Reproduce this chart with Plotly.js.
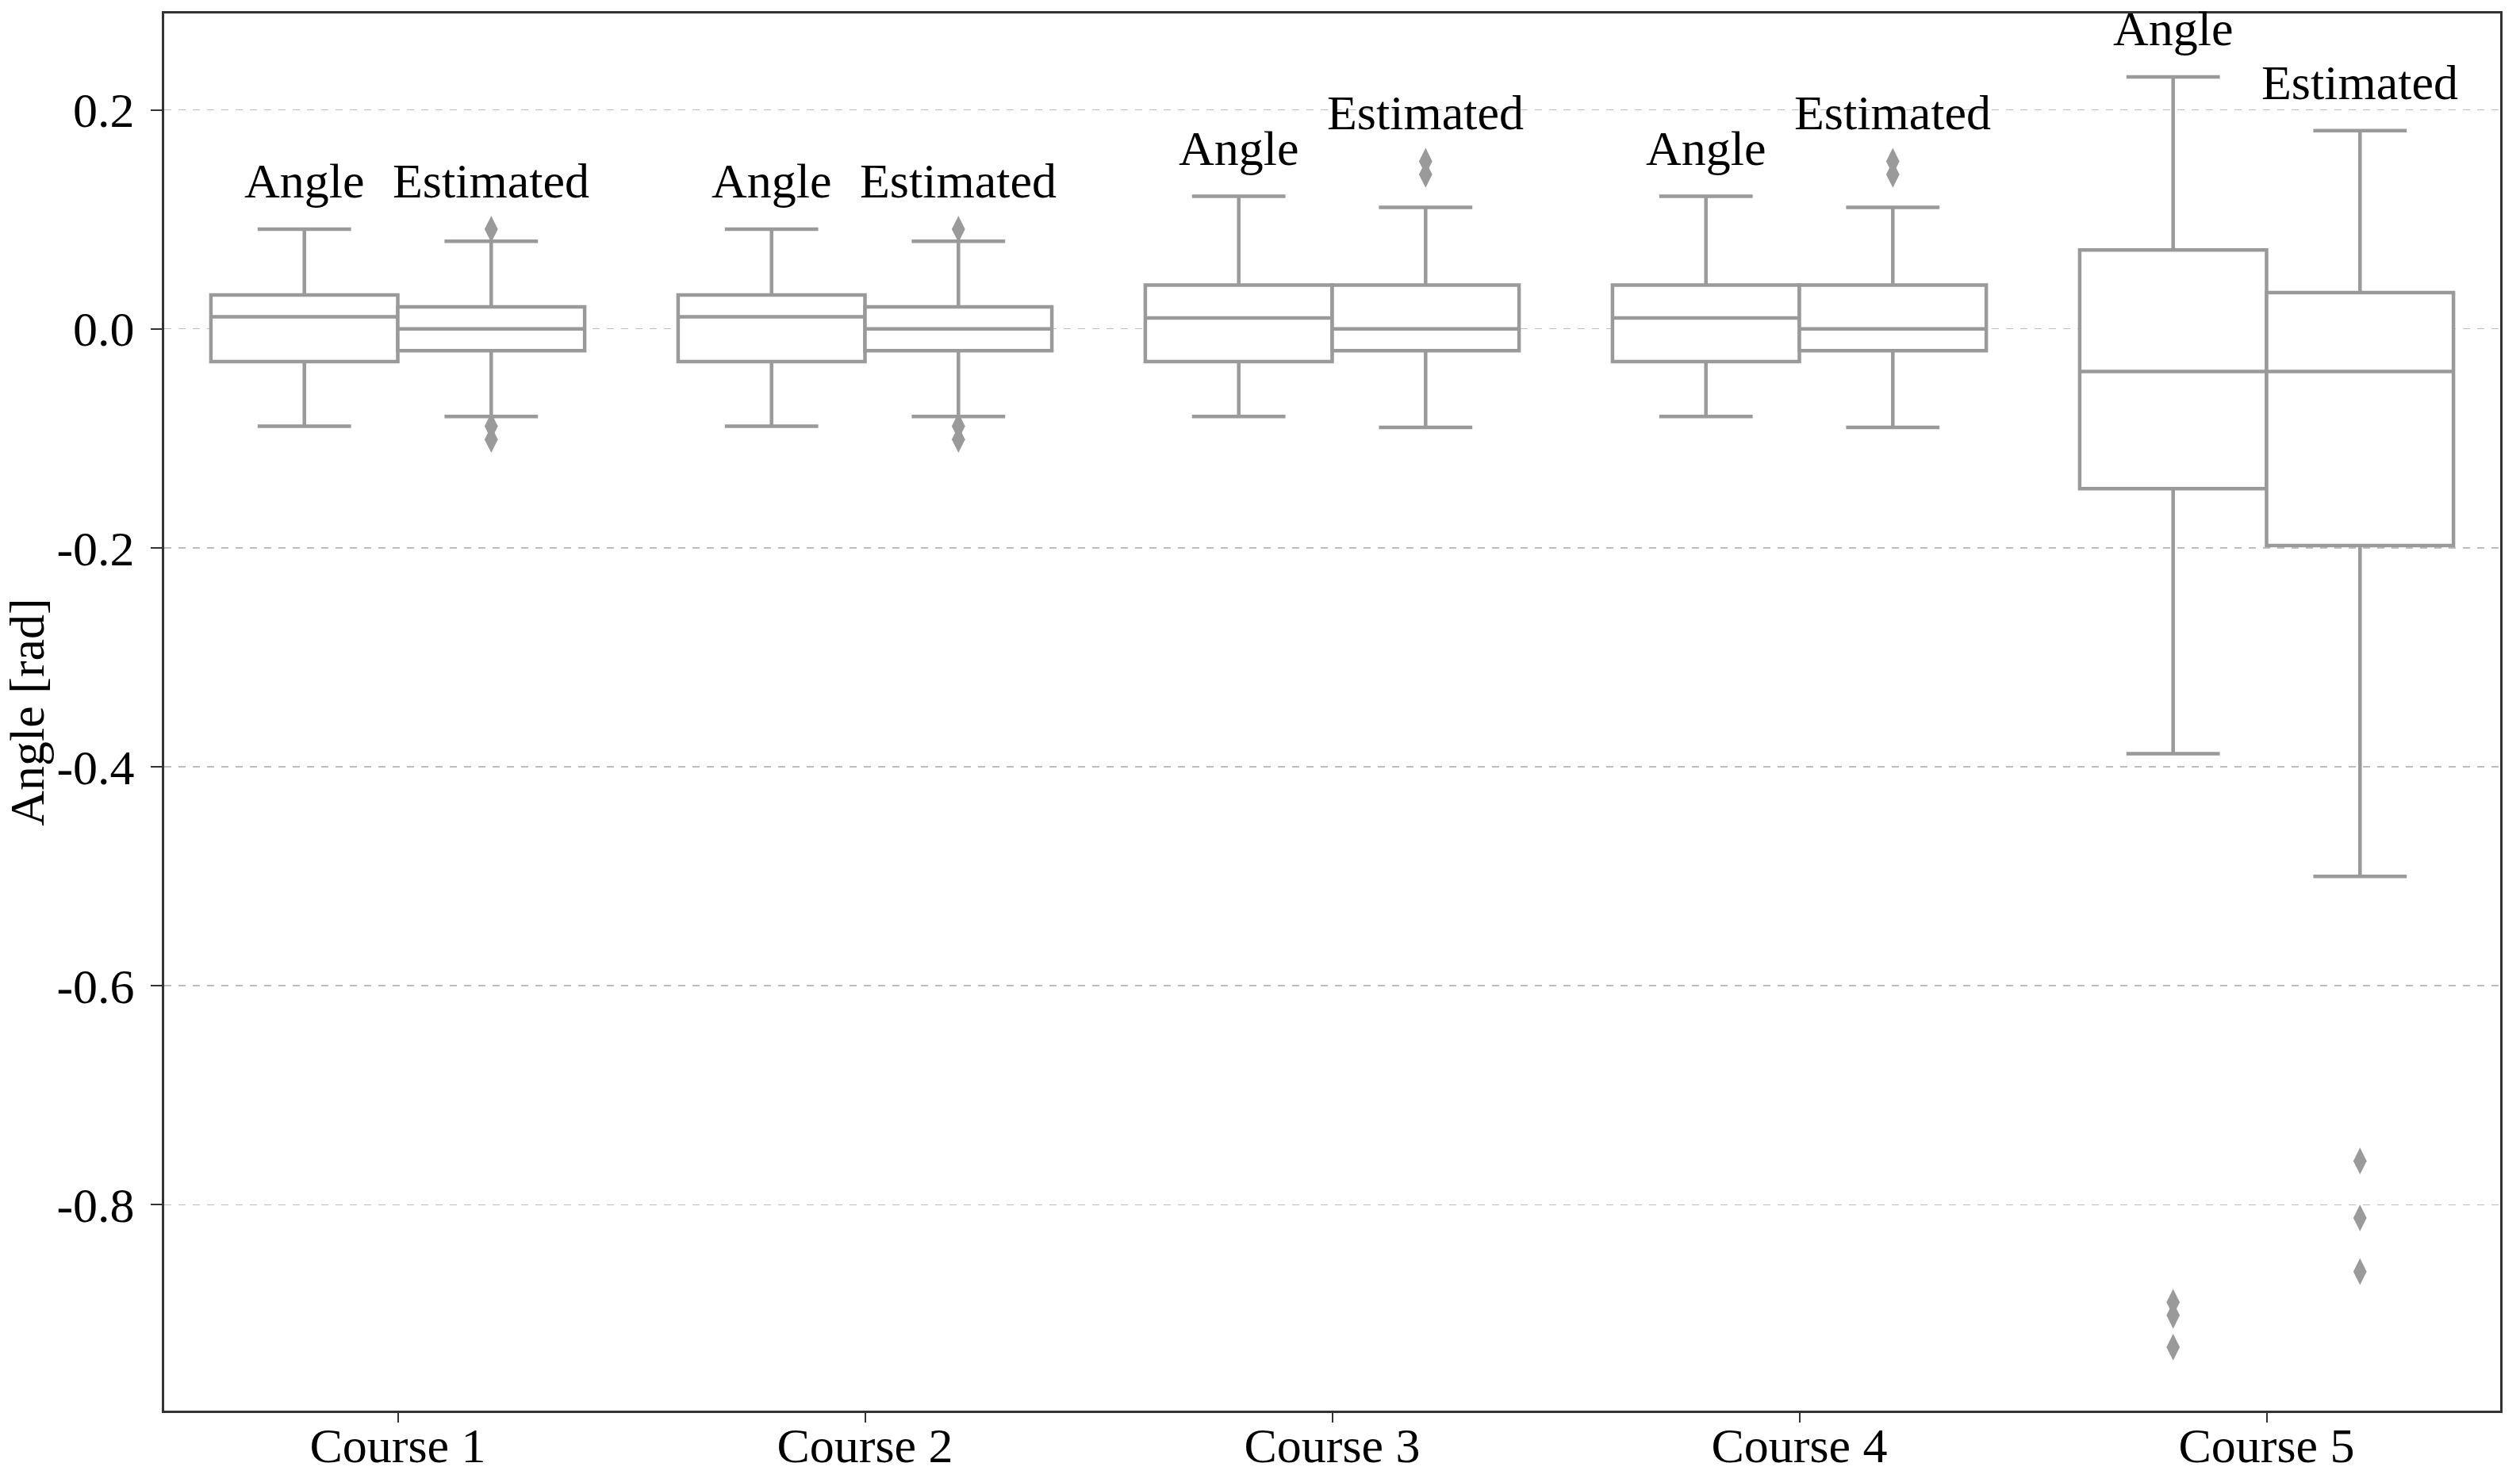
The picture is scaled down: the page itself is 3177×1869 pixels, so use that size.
<!DOCTYPE html>
<html>
<head>
<meta charset="utf-8">
<script src="https://cdn.plot.ly/plotly-3.0.1.min.js"></script>
<style>
  html, body { margin: 0; padding: 0; background: #ffffff; }
  #chart { width: 3177px; height: 1869px; }
</style>
</head>
<body>
<div id="chart"></div>
<script>
// ---- data ----
const courses = ["Course 1", "Course 2", "Course 3", "Course 4", "Course 5"];

const angleQ1      = [-0.030, -0.030, -0.030, -0.030, -0.146];
const angleMedian  = [ 0.011,  0.011,  0.010,  0.010, -0.039];
const angleQ3      = [ 0.031,  0.031,  0.040,  0.040,  0.072];
const angleLower   = [-0.089, -0.089, -0.080, -0.080, -0.388];
const angleUpper   = [ 0.091,  0.091,  0.121,  0.121,  0.230];
const angleOutliers = [[], [], [], [], [-0.889, -0.901, -0.930]];

const estQ1      = [-0.020, -0.020, -0.020, -0.020, -0.198];
const estMedian  = [ 0.000,  0.000,  0.000,  0.000, -0.039];
const estQ3      = [ 0.020,  0.020,  0.040,  0.040,  0.033];
const estLower   = [-0.080, -0.080, -0.090, -0.090, -0.500];
const estUpper   = [ 0.080,  0.080,  0.111,  0.111,  0.181];
const estOutliers = [[0.091, -0.089, -0.101], [0.091, -0.089, -0.101],
                     [0.153, 0.141], [0.153, 0.141],
                     [-0.760, -0.812, -0.861]];

const seriesNames = ["Angle", "Estimated"];
const yTickVals = [0.2, 0.0, -0.2, -0.4, -0.6, -0.8];
const yTickText = ["0.2", "0.0", "-0.2", "-0.4", "-0.6", "-0.8"];
const yTitle = "Angle [rad]";

// ---- styling / layout constants ----
const FONT = "Liberation Serif, Times New Roman, serif";
const FS = 62;
const BOX_COLOR = "#9a9a9a";
const AXIS_COLOR = "#333333";
const BOX_W = 0.4;          // width of each box (category units)
const OFFSETS = [-0.2, 0.2]; // hue offsets inside a category

const catIndex = courses.map((c, i) => i);

const series = [
  { name: seriesNames[0], q1: angleQ1, med: angleMedian, q3: angleQ3, lo: angleLower, up: angleUpper, outs: angleOutliers, off: OFFSETS[0] },
  { name: seriesNames[1], q1: estQ1, med: estMedian, q3: estQ3, lo: estLower, up: estUpper, outs: estOutliers, off: OFFSETS[1] }
];

const traces = [];
const annotations = [];

series.forEach(s => {
  const pos = catIndex.map(i => i + s.off);
  traces.push({
    type: "box",
    name: s.name,
    orientation: "v",
    x: pos,
    q1: s.q1, median: s.med, q3: s.q3,
    lowerfence: s.lo, upperfence: s.up,
    width: BOX_W,
    boxpoints: false,
    whiskerwidth: 0.5,
    fillcolor: "#ffffff",
    line: { color: BOX_COLOR, width: 4.5 },
    hoverinfo: "skip"
  });
  // outliers
  const ox = [], oy = [];
  s.outs.forEach((arr, i) => arr.forEach(v => { ox.push(pos[i]); oy.push(v); }));
  traces.push({
    type: "scatter",
    mode: "markers",
    name: s.name + " outliers",
    x: ox, y: oy,
    marker: { symbol: "diamond-tall", size: 24, color: BOX_COLOR, line: { width: 0 } },
    hoverinfo: "skip"
  });
  // label above each box
  catIndex.forEach(i => {
    const top = Math.max(s.up[i], ...s.outs[i]);
    annotations.push({
      x: pos[i], y: top, xref: "x", yref: "y",
      text: s.name, showarrow: false,
      xanchor: "center", yanchor: "bottom", yshift: 25,
      font: { family: FONT, size: FS, color: "#000000" }
    });
  });
});

const layout = {
  width: 3177, height: 1869,
  margin: { l: 207, r: 25, t: 17, b: 90, pad: 0 },
  paper_bgcolor: "#ffffff",
  plot_bgcolor: "#ffffff",
  showlegend: false,
  font: { family: FONT, size: FS, color: "#000000" },
  xaxis: {
    type: "linear",
    range: [-0.5, 4.5],
    tickmode: "array",
    tickvals: catIndex,
    ticktext: courses,
    showgrid: false,
    zeroline: false,
    showline: true, mirror: true,
    linecolor: AXIS_COLOR, linewidth: 3,
    ticks: "outside", ticklen: 12, tickwidth: 2, tickcolor: AXIS_COLOR,
    ticklabelstandoff: -24,
    tickfont: { family: FONT, size: FS, color: "#000000" },
    fixedrange: true
  },
  yaxis: {
    range: [-0.988, 0.288],
    tickmode: "array",
    tickvals: yTickVals,
    ticktext: yTickText,
    showgrid: true,
    gridcolor: "#bdbdbd", gridwidth: 1.5, griddash: "dash",
    zeroline: false,
    showline: true, mirror: true,
    linecolor: AXIS_COLOR, linewidth: 3,
    ticks: "outside", ticklen: 14, tickwidth: 2, tickcolor: AXIS_COLOR,
    ticklabelstandoff: 8,
    tickfont: { family: FONT, size: FS, color: "#000000" },
    title: { text: yTitle, font: { family: FONT, size: FS, color: "#000000" }, standoff: 4 },
    fixedrange: true
  },
  annotations: annotations
};

Plotly.newPlot("chart", traces, layout, { displayModeBar: false, staticPlot: true });
</script>
</body>
</html>
